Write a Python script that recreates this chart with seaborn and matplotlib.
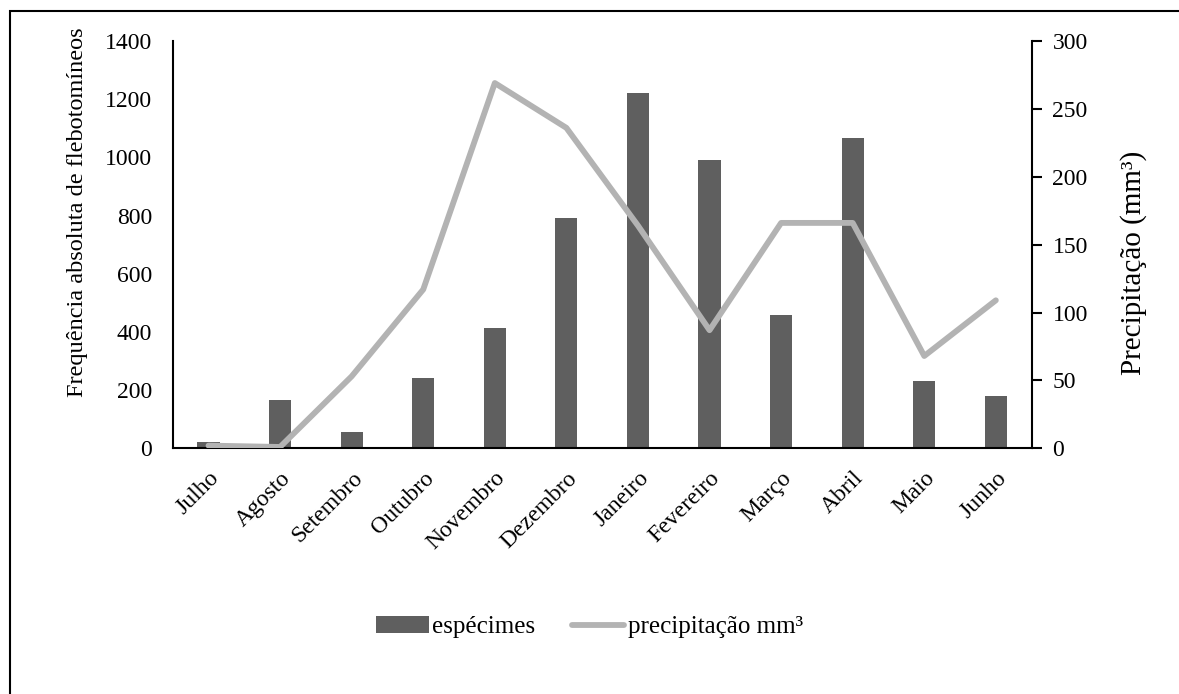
import matplotlib
matplotlib.use("Agg")
import matplotlib.pyplot as plt
import seaborn as sns
import pandas as pd
from matplotlib.patches import Rectangle, Patch
from matplotlib.lines import Line2D

months = ["Julho", "Agosto", "Setembro", "Outubro", "Novembro", "Dezembro",
          "Janeiro", "Fevereiro", "Março", "Abril", "Maio", "Junho"]
especimes = [23, 166, 55, 241, 412, 793, 1222, 992, 458, 1068, 231, 180]
precipitacao = [2, 1, 53, 117, 269, 236, 164, 87, 166, 166, 68, 109]

sns.set_theme(style="white")
plt.rcParams["font.family"] = ["Liberation Serif", "DejaVu Serif"]

df = pd.DataFrame({"mes": months, "especimes": especimes, "precip": precipitacao})

fig = plt.figure(figsize=(11.79, 6.94), dpi=100)
ax = fig.add_axes([0.1465, 0.354, 0.7285, 0.587])

bar_color = "#5f5f5f"
line_color = "#b3b3b3"

sns.barplot(data=df, x="mes", y="especimes", color=bar_color, width=0.31,
            saturation=1, ax=ax, edgecolor="none")
ax.set_xlim(-0.5, 11.5)
ax.set_ylim(0, 1400)
ax.set_yticks(range(0, 1401, 200))
ax.tick_params(axis="y", labelsize=17, length=0, pad=15, colors="black")
ax.tick_params(axis="x", labelsize=17, length=0, pad=14, colors="black")
for lbl in ax.get_xticklabels():
    lbl.set_rotation(45)
    lbl.set_ha("right")
    lbl.set_va("top")
    lbl.set_rotation_mode("anchor")
ax.set_xlabel("")
ax.set_ylabel("Frequência absoluta de flebotomíneos", fontsize=17.5, color="black")
ax.yaxis.set_label_coords(-0.099, 0.58)
for s in ["top", "right"]:
    ax.spines[s].set_visible(False)
for s in ["left", "bottom"]:
    ax.spines[s].set_color("black")
    ax.spines[s].set_linewidth(1.5)

ax2 = ax.twinx()
sns.lineplot(data=df, x="mes", y="precip", color=line_color, linewidth=4.2,
             ax=ax2, solid_capstyle="round")
ax2.set_ylim(0, 300)
ax2.set_yticks(range(0, 301, 50))
ax2.tick_params(axis="y", labelsize=17, length=7, width=1.5, direction="out",
                right=True, color="black", labelcolor="black", pad=8)
ax2.set_ylabel("Precipitação (mm³)", fontsize=21, color="black")
ax2.yaxis.set_label_coords(1.103, 0.455)
for s in ["top", "left", "bottom"]:
    ax2.spines[s].set_visible(False)
ax2.spines["right"].set_color("black")
ax2.spines["right"].set_linewidth(1.5)
ax2.set_xlabel("")

handles = [Patch(facecolor=bar_color, edgecolor="none"),
           Line2D([0], [0], color=line_color, linewidth=4.2, solid_capstyle="round")]
fig.legend(handles, ["espécimes", "precipitação mm³"], loc="center",
           bbox_to_anchor=(0.5, 1 - 627 / 694), ncol=2, frameon=False,
           fontsize=18, handlelength=2.1, handletextpad=0.15, columnspacing=1.45,
           labelcolor="black")

fig.patches.append(Rectangle((10 / 1179, -0.1), 1.2, 1 - 11 / 694 + 0.1,
                             transform=fig.transFigure, fill=False,
                             edgecolor="black", linewidth=1.5, zorder=0))

fig.savefig("out.png", dpi=100)
